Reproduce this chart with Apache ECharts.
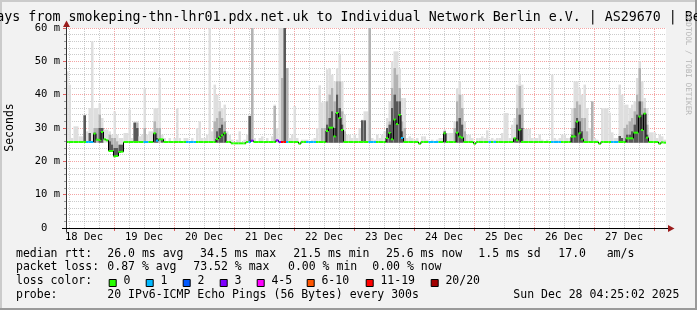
<!DOCTYPE html>
<html><head><meta charset="utf-8">
<script src="https://cdn.jsdelivr.net/npm/echarts@6/dist/echarts.min.js"></script>
<style>html,body{margin:0;padding:0;background:#f2f2f2}#c{width:697px;height:310px}</style>
</head><body><div id="c"></div>
<script>
// ---- data (one value per hour, starting 18 Dec 04:48) ----
const startHour = 4.8; // hours after 18 Dec 00:00
const dayLabels = ['18 Dec','19 Dec','20 Dec','21 Dec','22 Dec','23 Dec','24 Dec','25 Dec','26 Dec','27 Dec'];
const noonHours = [12,36,60,84,108,132,156,180,204,228];
const midnightHours = [24,48,72,96,120,144,168,192,216,240];
const sixHourGrid = [6,12,18,30,36,42,54,60,66,78,84,90,102,108,114,126,132,138,150,156,162,174,180,186,198,204,210,222,228,234];
const yTickLabels = ['0  ','10 m','20 m','30 m','40 m','50 m','60 m'];
const lossLegendLabels = ['0','1','2','3','4-5','6-10','11-19','20/20'];
const lossLegendColors = ['#26ff00','#00b8ff','#0059ff','#7e00ff','#ff00ff','#ff5500','#ff0000','#a10000'];

const median = [
25.8,25.8,25.8,25.8,25.8,25.8,25.8,25.8,25.8,25.8,25.8,28.3,26.5,26.4,28.8,26.6,26.3,23.1,23.1,21.5,21.6,22.8,22.9,25.8,
25.8,25.8,25.8,25.8,25.8,25.8,25.8,25.8,25.8,25.8,25.8,28.4,26.2,26.6,26.6,25.8,25.8,25.8,25.8,25.8,25.8,25.8,25.8,25.8,
25.8,25.8,25.8,25.8,25.8,25.8,25.8,25.8,25.8,25.8,25.8,25.8,26.7,27.3,27.8,28.4,25.8,25.8,25.4,25.4,25.4,25.4,25.4,25.4,
25.8,25.8,26.2,25.8,25.8,25.8,25.8,25.8,25.8,25.8,25.8,25.8,26.3,25.8,25.8,25.8,25.8,25.8,25.8,25.8,25.8,25.3,25.8,25.8,
25.8,25.8,25.8,25.8,25.8,25.8,25.8,25.8,29.1,30.1,30.1,27.5,34.5,33.0,29.4,25.8,25.8,25.8,25.8,25.8,25.8,25.8,25.8,25.8,
25.8,25.8,25.8,25.8,25.8,25.8,25.8,25.8,27.0,28.5,26.6,32.5,31.2,33.9,27.0,25.8,25.8,25.8,25.8,25.8,25.8,25.3,25.8,25.8,
25.8,25.8,25.8,25.8,25.8,25.8,25.8,28.4,25.8,25.8,25.8,25.8,28.6,27.4,27.1,25.8,25.8,25.8,25.8,25.3,25.8,25.8,25.8,25.8,
25.8,25.8,25.8,25.8,25.8,25.8,25.8,25.8,25.8,25.8,25.8,26.9,26.3,29.4,25.8,25.8,25.8,25.8,25.8,25.8,25.8,25.8,25.8,25.8,
25.8,25.8,25.8,25.8,25.8,25.8,25.8,25.8,25.8,25.8,27.4,27.5,31.9,28.4,26.6,25.8,25.8,25.8,25.8,25.8,25.8,25.3,25.8,25.8,
25.8,25.8,25.8,25.8,25.8,25.8,25.8,25.8,26.9,26.9,26.9,28.6,28.6,33.4,29.4,34.3,27.1,25.8,25.8,25.8,25.8,25.3,25.7,25.6
];
const lossCount = [
0,0,0,0,0,0,0,0,1,1,1,0,0,0,0,0,0,0,0,0,0,0,0,0,
0,0,0,0,0,0,0,1,1,0,0,0,1,0,0,0,0,0,0,0,0,0,0,0,
1,1,1,1,0,0,0,0,0,0,0,0,0,0,0,0,0,0,0,0,0,0,0,0,
0,1,3,0,0,0,0,0,0,0,0,0,3,3,15,12,1,0,0,0,0,0,0,0,
1,1,1,1,0,0,0,0,0,0,0,0,0,0,0,0,0,0,0,0,0,0,0,0,
0,1,1,1,0,0,0,0,0,0,0,0,0,0,1,0,0,0,0,0,0,0,0,0,
0,1,1,1,1,0,0,0,0,0,0,0,0,0,0,0,0,0,0,0,0,0,0,0,
0,1,0,1,0,0,0,0,0,0,0,0,0,0,0,0,0,0,0,0,0,0,0,0,
0,0,1,1,1,1,0,0,0,0,0,0,0,0,0,0,0,0,0,0,0,0,0,0,
0,0,1,1,1,0,0,0,0,0,0,0,0,0,0,0,0,0,0,0,0,0,0,0
];
// smoke envelope (0 = none / same as median)
const smokeMin = [
0,0,0,0,0,0,0,0,0,0,0,25.6,25.6,25.6,25.6,25.6,25.6,0,0,0,0,0,0,0,
0,0,0,0,0,0,0,0,0,0,0,25.6,25.6,25.6,25.6,0,0,0,0,0,0,0,0,0,
0,0,0,0,0,0,0,0,0,0,0,0,25.6,25.6,25.6,25.6,0,0,0,0,0,0,0,0,
0,0,0,0,0,0,0,0,0,0,0,0,25.6,0,0,0,0,0,0,0,0,0,0,0,
0,0,0,0,0,0,0,0,25.6,25.6,25.6,25.6,25.6,25.6,25.6,0,0,0,0,0,0,0,0,0,
0,0,0,0,0,0,0,0,25.6,25.6,25.6,25.6,25.6,25.6,25.6,0,0,0,0,0,0,0,0,0,
0,0,0,0,0,0,0,25.6,0,0,0,0,25.6,25.6,25.6,0,0,0,0,0,0,0,0,0,
0,0,0,0,0,0,0,0,0,0,0,25.6,25.6,25.6,25.6,0,0,0,0,0,0,0,0,0,
0,0,0,0,0,0,0,0,0,0,25.6,25.6,25.6,25.6,25.6,0,0,0,0,0,0,0,0,0,
0,0,0,0,0,0,0,0,25.6,25.6,25.6,25.6,25.6,25.6,25.6,25.6,25.6,0,0,0,0,0,0,0
];
const smokeMax = [
47,43,27,30.5,30.5,27.5,27.5,34,29,36,56,36,36,37.4,33,29.5,29.5,29,28,35,28,27,27,28.5,
28.5,35.5,27,32,32,27.5,28,42,28,29,29,36,36,45,28,27,0,27,0,27,36,27,0,27,
27,0,27,0,30,32,27,27,28,60,29,43,40,38,36,37,29,28,26.5,0,26.5,29,0,26.5,
28,34,60,27,0,27,27.5,0,27,0,27.5,37,30,60,60,60,48,27,28,36.6,27,0,26.5,26.5,
26.5,0,26.5,27,29.9,42.8,37.7,38,47.6,48,46,44,48,52,44,34,28,28,27,28,27,30,32.5,35,
35,60,27,26.5,28,27,28,29,33,38,50,53,53,48,39,39,27,27.5,27,26.5,27,0,27.5,27.5,
26.5,0,26.5,0,26.5,27,27,29.5,28.5,28.5,28.5,32,42,44,40,32,28,28,27,0,27,27,27.5,27,
29.3,26.5,27,26.5,27,27,28.5,34.5,34.5,27,31,33,43,46,43,29.7,29.7,29.7,27,27,27,28,26.5,0,
26.5,0,46,27,26.5,27,28,28,27,27,36,44,44,42,40,43,36,30,38,27,26.5,0,36,36,
36,34.6,28.7,27,27,43,40,37,37,36,37,38,45,50,44,39,36,28.7,28.7,28.7,27,28,27.5,26.5
];
const smokeMid = [
0,0,0,0,0,0,0,33.8,0,0,0,30,30,34,30,0,0,28,27,27,26,0,0,0,
0,0,0,31.6,31.6,0,0,30,0,0,0,32,30,30,0,0,0,0,0,0,0,0,0,0,
0,0,0,0,0,0,0,0,0,0,0,32,33,35,33,32,0,0,0,0,0,0,0,0,
0,33.6,60,0,0,0,0,0,0,0,0,36.6,0,0,45,60,48,0,0,0,0,0,0,0,
0,0,0,0,0,0,30,30,38,40,42,38,44,44,35,29,0,0,0,0,0,0,0,0,
0,60,0,0,0,0,0,0,30,32,42,48,46,42,32,30,0,0,0,0,0,0,0,0,
0,0,0,0,0,0,0,0,0,0,0,30,38,40,36,29,0,0,0,0,0,0,0,0,
0,0,0,0,0,0,0,0,0,0,0,0,36,42.6,36,0,0,0,0,0,0,0,0,0,
0,0,0,0,0,0,0,0,0,0,30,36,38,37,33,33,29,0,38,0,0,0,0,0,
0,0,0,0,0,0,0,30,31,32,33,35,40,48,38,36,31,0,0,0,0,0,0,0
];
const smokeDark = [
0,0,0,0,0,0,0,33.8,0,28.5,0,28.6,0,30,30,0,0,26,25,24,24,25,25,0,
0,0,0,31.6,30,0,0,0,0,0,0,28.4,27,0,26.6,0,0,0,0,0,0,0,0,0,
0,0,0,0,0,0,0,0,0,0,0,0,29,30,31,29,0,0,0,0,0,0,0,0,
0,33.6,0,0,0,0,0,0,0,0,0,0,0,0,0,60,0,0,0,0,0,0,0,0,
0,0,0,0,0,0,0,0,31,33,35,30,40,36,31,0,0,0,0,0,0,0,32.3,32.3,
0,0,0,0,0,0,0,0,30,31,36,40,38,38,29,0,0,0,0,0,0,0,0,0,
0,0,0,0,0,0,0,29,0,0,0,0,32,33,31,0,0,0,0,0,0,0,0,0,
0,0,0,0,0,0,0,0,0,0,0,27,31,34,30,0,0,0,0,0,0,0,0,0,
0,0,0,0,0,0,0,0,0,0,28,30,33,32,29,0,0,0,0,0,0,0,0,0,
0,0,0,0,0,27.6,27,0,28,28,29,31,34,38,34,34.5,28,0,0,0,0,0,0,0
];

// ---- styling ----
const MONO = '"DejaVu Sans Mono", monospace';
const SMOKE_COLORS = ['#dedede', '#b2b2b2', '#585858'];
const MAJOR_GRID = 'rgba(235,90,90,0.55)';
const MINOR_GRID = 'rgba(140,140,140,0.45)';

function lossColor(l) {
  if (l <= 0) return lossLegendColors[0];
  if (l === 1) return lossLegendColors[1];
  if (l === 2) return lossLegendColors[2];
  if (l === 3) return lossLegendColors[3];
  if (l <= 5) return lossLegendColors[4];
  if (l <= 10) return lossLegendColors[5];
  if (l <= 19) return lossLegendColors[6];
  return lossLegendColors[7];
}

const gridData = sixHourGrid.map(h => [h, 0, 0]).concat(midnightHours.map(h => [h, 0, 1]));
const smokeData = median.map((m, i) => [startHour + i, m, smokeMin[i], smokeMax[i], smokeMid[i], smokeDark[i]]);
const medianData = median.map((m, i) => [startHour + i, m, i > 0 ? median[i - 1] : m, lossCount[i]]);

function txt(x, y, text, size, extra) {
  return Object.assign({
    type: 'text', x: x, y: y, z: 50,
    style: { text: text, fill: '#000', fontFamily: MONO, fontSize: size, align: 'left', verticalAlign: 'middle' }
  }, extra || {});
}

const graphics = [];
// frame
graphics.push({ type: 'rect', shape: { x: 0, y: 0, width: 697, height: 2 }, style: { fill: '#cbcbcb' }, z: 40 });
graphics.push({ type: 'rect', shape: { x: 0, y: 0, width: 2, height: 310 }, style: { fill: '#cbcbcb' }, z: 40 });
graphics.push({ type: 'rect', shape: { x: 0, y: 308, width: 697, height: 2 }, style: { fill: '#9a9a9a' }, z: 40 });
graphics.push({ type: 'rect', shape: { x: 695, y: 0, width: 2, height: 310 }, style: { fill: '#9a9a9a' }, z: 40 });
// title
graphics.push(txt(-75.7, 18, 'Last 10 Days from smokeping-thn-lhr01.pdx.net.uk to Individual Network Berlin e.V. | AS29670 | Berlin', 13.3));
// y axis title
graphics.push({ type: 'text', x: 10.5, y: 127.5, rotation: Math.PI / 2, z: 50,
  style: { text: 'Seconds', fill: '#000', fontFamily: MONO, fontSize: 11.5, align: 'center', verticalAlign: 'middle' } });
// watermark
graphics.push({ type: 'text', x: 687.5, y: 64, rotation: -Math.PI / 2, z: 50,
  style: { text: 'RRDTOOL / TOBI OETIKER', fill: '#b4b4b4', fontFamily: MONO, fontSize: 7.7, align: 'center', verticalAlign: 'middle' } });
// axis extensions and arrows
graphics.push({ type: 'line', z: 45, shape: { x1: 66.5, y1: 23, x2: 66.5, y2: 232 }, style: { stroke: '#333', lineWidth: 1 } });
graphics.push({ type: 'line', z: 45, shape: { x1: 62, y1: 228.5, x2: 670, y2: 228.5 }, style: { stroke: '#000', lineWidth: 1 } });
graphics.push({ type: 'polygon', z: 46, shape: { points: [[66.5, 20.5], [63, 27], [70, 27]] }, style: { fill: '#9b1c1c' } });
graphics.push({ type: 'polygon', z: 46, shape: { points: [[674.5, 228.5], [668, 225], [668, 232]] }, style: { fill: '#9b1c1c' } });
// legend rows
const F = 11.5;
[[16, 'median rtt:'], [107.3, '26.0 ms avg'], [200, '34.5 ms max'], [293.3, '21.5 ms min'], [386, '25.6 ms now'], [478.3, '1.5 ms sd'], [558.3, '17.0'], [606.7, 'am/s']]
  .forEach(s => graphics.push(txt(s[0], 254, s[1], F)));
[[16, 'packet loss:'], [107.3, '0.87 % avg'], [193.3, '73.52 % max'], [288, '0.00 % min'], [372.3, '0.00 % now']]
  .forEach(s => graphics.push(txt(s[0], 267.4, s[1], F)));
graphics.push(txt(16, 281.2, 'loss color:', F));
const swatchX = [108.7, 145.7, 182.7, 219.7, 256.7, 306.7, 365.7, 430.7];
lossLegendLabels.forEach((lab, k) => {
  graphics.push({ type: 'rect', z: 50, shape: { x: swatchX[k] + 0.5, y: 279.5, width: 7, height: 7 }, style: { fill: lossLegendColors[k], stroke: '#000', lineWidth: 1 } });
  graphics.push(txt(swatchX[k] + 14.7, 281.2, lab, F));
});
[[16, 'probe:'], [107.3, '20 IPv6-ICMP Echo Pings (56 Bytes) every 300s'], [513.3, 'Sun Dec 28 04:25:02 2025']]
  .forEach(s => graphics.push(txt(s[0], 294.7, s[1], F)));

const option = {
  animation: false,
  backgroundColor: '#f2f2f2',
  grid: { left: 66, top: 28, width: 600, height: 200, show: true, backgroundColor: '#ffffff', borderWidth: 0, outerBoundsMode: 'none' },
  xAxis: {
    type: 'value', min: startHour, max: startHour + 240,
    axisLine: { show: true, lineStyle: { color: '#000', width: 1 } },
    axisTick: { show: true, customValues: midnightHours, length: 3, lineStyle: { color: '#e06060' } },
    axisLabel: { show: true, customValues: noonHours, formatter: v => dayLabels[noonHours.indexOf(v)],
      color: '#000', fontFamily: MONO, fontSize: 10.5, margin: 4 },
    splitLine: { show: false }
  },
  yAxis: {
    type: 'value', min: 0, max: 60, interval: 10,
    axisLine: { show: true, lineStyle: { color: '#333', width: 1 } },
    axisTick: { show: true, length: 3, lineStyle: { color: '#e06060' } },
    minorTick: { show: true, splitNumber: 5, length: 2, lineStyle: { color: '#999' } },
    axisLabel: { formatter: v => yTickLabels[Math.round(v / 10)], color: '#000', fontFamily: MONO, fontSize: 10.5, margin: 6 },
    splitLine: { show: true, lineStyle: { color: MAJOR_GRID, width: 1, type: [1, 1] } },
    minorSplitLine: { show: true, lineStyle: { color: MINOR_GRID, width: 1, type: [1, 1] } }
  },
  series: [
    {
      type: 'custom', name: 'grid', z: 1, silent: true, data: gridData, encode: { x: 0, y: 1 },
      renderItem: function (params, api) {
        const h = api.value(0), major = api.value(2);
        const a = api.coord([h, 0]), b = api.coord([h, 60]);
        const x = Math.round(a[0]) + 0.5;
        return { type: 'line', shape: { x1: x, y1: a[1], x2: x, y2: b[1] },
          style: { stroke: major ? MAJOR_GRID : MINOR_GRID, lineWidth: 1, lineDash: [1, 1] } };
      }
    },
    {
      type: 'custom', name: 'smoke', z: 2, silent: true, clip: true, data: smokeData, encode: { x: 0, y: 1 },
      renderItem: function (params, api) {
        const x0 = api.value(0), m = api.value(1), lo0 = api.value(2);
        const lo = lo0 > 0 ? lo0 : m;
        const tops = [api.value(3), api.value(4), api.value(5)];
        const children = [];
        tops.forEach((hi, k) => {
          if (hi > lo) {
            const a = api.coord([x0, hi]), b = api.coord([x0 + 1, lo]);
            children.push({ type: 'rect', shape: { x: a[0], y: a[1], width: b[0] - a[0], height: b[1] - a[1] }, style: { fill: SMOKE_COLORS[k] } });
          }
        });
        return { type: 'group', children: children };
      }
    },
    {
      type: 'custom', name: 'median', z: 3, silent: true, clip: true, data: medianData, encode: { x: 0, y: 1 },
      renderItem: function (params, api) {
        const x0 = api.value(0), m = api.value(1), pm = api.value(2), l = api.value(3);
        const a = api.coord([x0, m]), b = api.coord([x0 + 1, m]);
        const children = [];
        if (Math.abs(pm - m) > 0.3) {
          const p = api.coord([x0, pm]);
          children.push({ type: 'line', shape: { x1: a[0], y1: p[1], x2: a[0], y2: a[1] }, style: { stroke: '#000', lineWidth: 1 } });
        }
        children.push({ type: 'rect', shape: { x: a[0], y: a[1] - 1, width: b[0] - a[0], height: 2 }, style: { fill: lossColor(l) } });
        return { type: 'group', children: children };
      }
    }
  ],
  graphic: graphics
};
const chart = echarts.init(document.getElementById('c'), null, { renderer: 'canvas', width: 697, height: 310 });
chart.setOption(option);
</script>
</body></html>
